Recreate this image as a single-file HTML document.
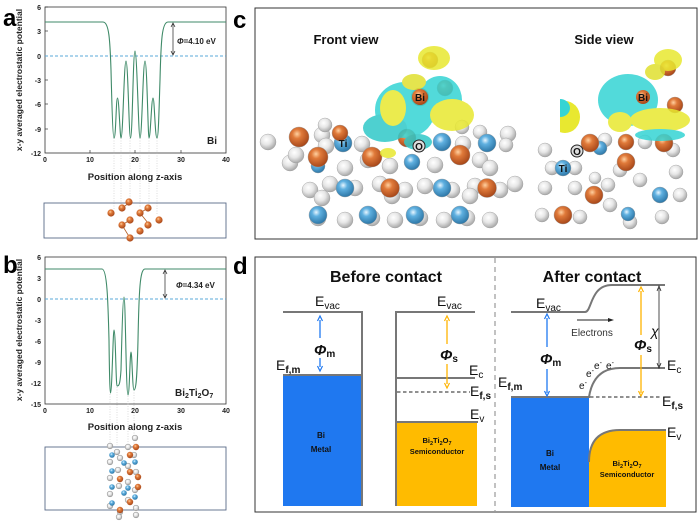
<!DOCTYPE html>
<html><head><meta charset="utf-8"><style>
html,body{margin:0;padding:0;background:#fff}
svg{display:block}
text{font-family:"Liberation Sans",Arial,sans-serif}
.b{font-weight:bold}
.t{font-size:7px;font-weight:bold;fill:#222}
</style></head><body>
<svg width="700" height="524" viewBox="0 0 700 524" xmlns="http://www.w3.org/2000/svg">
<defs>
<radialGradient id="go" cx="40%" cy="35%" r="65%"><stop offset="0" stop-color="#ffd0a0"/><stop offset="0.35" stop-color="#e07a3a"/><stop offset="1" stop-color="#a8481a"/></radialGradient>
<radialGradient id="gb" cx="40%" cy="35%" r="65%"><stop offset="0" stop-color="#e8f6ff"/><stop offset="0.35" stop-color="#5fb0e0"/><stop offset="1" stop-color="#2e78a8"/></radialGradient>
<radialGradient id="gw" cx="40%" cy="35%" r="65%"><stop offset="0" stop-color="#ffffff"/><stop offset="0.5" stop-color="#e6e6e6"/><stop offset="1" stop-color="#a8a8a8"/></radialGradient>
<clipPath id="cs"><rect x="560" y="55" width="132" height="180"/></clipPath>
</defs>

<!-- panel labels -->
<text x="3" y="26" class="b" font-size="24">a</text>
<text x="3" y="273" class="b" font-size="24">b</text>
<text x="233" y="28" class="b" font-size="24">c</text>
<text x="233" y="274" class="b" font-size="24">d</text>

<!-- ===== Panel a ===== -->
<rect x="45" y="7" width="181" height="146" fill="none" stroke="#333" stroke-width="0.8"/>
<g stroke="#333" stroke-width="0.7">
<line x1="45" y1="7" x2="48" y2="7"/><line x1="45" y1="31" x2="48" y2="31"/><line x1="45" y1="56" x2="48" y2="56"/><line x1="45" y1="80" x2="48" y2="80"/><line x1="45" y1="104" x2="48" y2="104"/><line x1="45" y1="129" x2="48" y2="129"/>
<line x1="90" y1="153" x2="90" y2="150"/><line x1="135" y1="153" x2="135" y2="150"/><line x1="181" y1="153" x2="181" y2="150"/>
</g>
<g class="t" text-anchor="end">
<text x="41" y="10">6</text><text x="41" y="34">3</text><text x="41" y="59">0</text><text x="41" y="83">-3</text><text x="41" y="107">-6</text><text x="41" y="132">-9</text><text x="41" y="156">-12</text>
</g>
<g class="t" text-anchor="middle">
<text x="45" y="162">0</text><text x="90" y="162">10</text><text x="135" y="162">20</text><text x="181" y="162">30</text><text x="226" y="162">40</text>
</g>
<text x="135" y="180" text-anchor="middle" class="b" font-size="9.5" fill="#222">Position along z-axis</text>
<text transform="translate(22,80) rotate(-90)" text-anchor="middle" class="b" font-size="8.5" fill="#222">x-y averaged electrostatic potential</text>
<line x1="45" y1="56" x2="226" y2="56" stroke="#5aa8d8" stroke-width="0.9" stroke-dasharray="3,2"/>
<g stroke="#bbb" stroke-width="0.5" stroke-dasharray="1,1.5">
<line x1="114" y1="138" x2="114" y2="210"/><line x1="121" y1="138" x2="121" y2="205"/><line x1="130" y1="138" x2="130" y2="200"/><line x1="140" y1="138" x2="140" y2="208"/><line x1="149" y1="138" x2="149" y2="205"/><line x1="157" y1="138" x2="157" y2="215"/>
</g>
<path d="M45 22 L103 22 C109 22 110 40 111 70 C112 110 113 138 114 138 C116 138 116 98 117.5 98 C119 98 120 138 121 138 C123 138 124 61 126 61 C128 61 129 138 130.5 138 C132.5 138 133 51 135 51 C137 51 138.5 138 140 138 C142 138 143 61 145 61 C147 61 148 138 149 138 C150.5 138 151.5 98 153 98 C154.5 98 155 138 157 138 C158.5 138 159 110 160 80 C161 40 162 22 168 22 L226 22" fill="none" stroke="#3f8a68" stroke-width="1.1"/>
<line x1="173" y1="24" x2="173" y2="54" stroke="#222" stroke-width="0.7"/>
<path d="M171 27 L173 23 L175 27 M171 51 L173 55 L175 51" fill="none" stroke="#222" stroke-width="0.7"/>
<text x="177" y="44" class="b" font-size="8" fill="#222"><tspan font-style="italic">Φ</tspan>=4.10 eV</text>
<text x="207" y="144" class="b" font-size="10" fill="#222">Bi</text>
<rect x="44" y="203" width="182" height="35" fill="none" stroke="#5a6a88" stroke-width="0.9"/>
<g stroke="#b05a20" stroke-width="0.8">
<line x1="129" y1="203" x2="122" y2="208"/><line x1="130" y1="220" x2="122" y2="225"/><line x1="122" y1="225" x2="130" y2="238"/><line x1="140" y1="213" x2="148" y2="208"/><line x1="140" y1="213" x2="148" y2="223"/>
</g>
<g fill="url(#go)">
<circle cx="129" cy="202" r="3.6"/><circle cx="122" cy="208" r="3.6"/><circle cx="148" cy="208" r="3.6"/><circle cx="111" cy="213" r="3.6"/><circle cx="140" cy="213" r="3.6"/><circle cx="130" cy="220" r="3.6"/><circle cx="159" cy="220" r="3.6"/><circle cx="122" cy="225" r="3.6"/><circle cx="148" cy="225" r="3.6"/><circle cx="140" cy="231" r="3.6"/><circle cx="130" cy="238" r="3.6"/>
</g>

<!-- ===== Panel b ===== -->
<rect x="45" y="257" width="181" height="147" fill="none" stroke="#333" stroke-width="0.8"/>
<g class="t" text-anchor="end">
<text x="41" y="260">6</text><text x="41" y="281">3</text><text x="41" y="302">0</text><text x="41" y="323">-3</text><text x="41" y="344">-6</text><text x="41" y="365">-9</text><text x="41" y="386">-12</text><text x="41" y="407">-15</text>
</g>
<g class="t" text-anchor="middle">
<text x="45" y="413">0</text><text x="90" y="413">10</text><text x="135" y="413">20</text><text x="181" y="413">30</text><text x="226" y="413">40</text>
</g>
<text x="135" y="430" text-anchor="middle" class="b" font-size="9.5" fill="#222">Position along z-axis</text>
<text transform="translate(22,330) rotate(-90)" text-anchor="middle" class="b" font-size="8.5" fill="#222">x-y averaged electrostatic potential</text>
<line x1="45" y1="299" x2="226" y2="299" stroke="#5aa8d8" stroke-width="0.9" stroke-dasharray="3,2"/>
<g stroke="#bbb" stroke-width="0.5" stroke-dasharray="1,1.5">
<line x1="110" y1="394" x2="110" y2="445"/><line x1="117" y1="387" x2="117" y2="445"/><line x1="128" y1="396" x2="128" y2="445"/><line x1="134" y1="390" x2="134" y2="445"/>
</g>
<path d="M45 269 L102 269 C107 269 108 300 109 340 C109.5 380 110 393 110.5 393 C112 393 113 330 114 330 C115.5 330 116 386 117 386 C119 386 120 385 121 370 C122 330 123 297 124 297 C125.5 297 126 395 128 395 C129.5 395 130 352 131 352 C132 352 132.5 390 134 390 C136 390 137 380 138 340 C139 290 140 269 145 269 L226 269" fill="none" stroke="#3f8a68" stroke-width="1.1"/>
<line x1="165" y1="271" x2="165" y2="297" stroke="#222" stroke-width="0.7"/>
<path d="M163 274 L165 270 L167 274 M163 294 L165 298 L167 294" fill="none" stroke="#222" stroke-width="0.7"/>
<text x="176" y="288" class="b" font-size="8" fill="#222"><tspan font-style="italic">Φ</tspan>=4.34 eV</text>
<text x="175" y="396" class="b" font-size="10" fill="#222">Bi<tspan font-size="7" dy="2">2</tspan><tspan dy="-2">Ti</tspan><tspan font-size="7" dy="2">2</tspan><tspan dy="-2">O</tspan><tspan font-size="7" dy="2">7</tspan></text>
<rect x="45" y="447" width="181" height="63" fill="none" stroke="#5a6a88" stroke-width="0.9"/>
<g stroke="#999" stroke-width="0.6" fill="url(#gw)">
<circle cx="110" cy="446" r="2.8"/><circle cx="117" cy="452" r="2.8"/><circle cx="110" cy="462" r="2.8"/><circle cx="120" cy="458" r="2.8"/><circle cx="128" cy="447" r="2.8"/><circle cx="134" cy="455" r="2.8"/><circle cx="135" cy="438" r="2.8"/>
<circle cx="110" cy="478" r="2.8"/><circle cx="118" cy="470" r="2.8"/><circle cx="128" cy="466" r="2.8"/><circle cx="136" cy="472" r="2.8"/><circle cx="110" cy="494" r="2.8"/><circle cx="119" cy="486" r="2.8"/><circle cx="128" cy="482" r="2.8"/><circle cx="135" cy="490" r="2.8"/>
<circle cx="110" cy="506" r="2.8"/><circle cx="120" cy="512" r="2.8"/><circle cx="128" cy="500" r="2.8"/><circle cx="136" cy="508" r="2.8"/><circle cx="119" cy="517" r="2.8"/><circle cx="136" cy="515" r="2.8"/>
</g>
<g fill="url(#gb)">
<circle cx="112" cy="455" r="2.8"/><circle cx="124" cy="463" r="2.8"/><circle cx="112" cy="471" r="2.8"/><circle cx="112" cy="487" r="2.8"/><circle cx="124" cy="493" r="2.8"/><circle cx="112" cy="503" r="2.8"/><circle cx="135" cy="462" r="2.8"/><circle cx="128" cy="488" r="2.8"/><circle cx="135" cy="497" r="2.8"/>
</g>
<g fill="url(#go)">
<circle cx="136" cy="447" r="3.2"/><circle cx="130" cy="455" r="3.2"/><circle cx="130" cy="472" r="3.2"/><circle cx="120" cy="479" r="3.2"/><circle cx="138" cy="477" r="3.2"/><circle cx="138" cy="487" r="3.2"/><circle cx="130" cy="502" r="3.2"/><circle cx="120" cy="510" r="3.2"/>
</g>

<!-- ===== Panel c ===== -->
<rect x="255" y="8" width="442" height="231" fill="none" stroke="#333" stroke-width="1"/>
<text x="346" y="44" text-anchor="middle" class="b" font-size="13" fill="#111">Front view</text>
<text x="604" y="44" text-anchor="middle" class="b" font-size="13" fill="#111">Side view</text>
<!-- front view atoms -->
<g stroke="#999" stroke-width="0.4">
<g fill="url(#gw)">
<circle cx="318" cy="218" r="8"/><circle cx="345" cy="220" r="8"/><circle cx="372" cy="218" r="8"/><circle cx="395" cy="220" r="8"/><circle cx="420" cy="218" r="8"/><circle cx="444" cy="220" r="8"/><circle cx="467" cy="218" r="8"/><circle cx="490" cy="220" r="8"/>
<circle cx="310" cy="190" r="8"/><circle cx="330" cy="184" r="8"/><circle cx="355" cy="188" r="8"/><circle cx="380" cy="184" r="8"/><circle cx="405" cy="190" r="8"/><circle cx="425" cy="186" r="8"/><circle cx="452" cy="190" r="8"/><circle cx="475" cy="186" r="8"/><circle cx="500" cy="190" r="8"/><circle cx="515" cy="184" r="8"/><circle cx="322" cy="198" r="8"/><circle cx="392" cy="196" r="8"/><circle cx="470" cy="196" r="8"/>
<circle cx="290" cy="163" r="8"/><circle cx="296" cy="155" r="8"/><circle cx="345" cy="168" r="8"/><circle cx="390" cy="166" r="8"/><circle cx="435" cy="165" r="8"/><circle cx="480" cy="160" r="8"/><circle cx="490" cy="168" r="8"/><circle cx="368" cy="160" r="8"/>
<circle cx="268" cy="142" r="8"/><circle cx="322" cy="135" r="8"/><circle cx="326" cy="146" r="8"/><circle cx="362" cy="144" r="8"/><circle cx="325" cy="125" r="7"/><circle cx="463" cy="144" r="8"/><circle cx="462" cy="127" r="7"/><circle cx="508" cy="134" r="8"/><circle cx="506" cy="145" r="7"/><circle cx="300" cy="140" r="7"/><circle cx="480" cy="132" r="7"/>
</g>
<g fill="url(#gb)">
<circle cx="318" cy="215" r="9"/><circle cx="368" cy="215" r="9"/><circle cx="415" cy="215" r="9"/><circle cx="460" cy="215" r="9"/>
<circle cx="345" cy="188" r="9"/><circle cx="442" cy="188" r="9"/>
<circle cx="343" cy="143" r="9"/><circle cx="442" cy="142" r="9"/><circle cx="487" cy="143" r="9"/><circle cx="412" cy="162" r="8"/><circle cx="318" cy="166" r="7"/>
</g>
<g fill="url(#go)">
<circle cx="390" cy="188" r="9.5"/><circle cx="487" cy="188" r="9.5"/>
<circle cx="299" cy="137" r="10"/><circle cx="318" cy="157" r="10"/><circle cx="372" cy="157" r="10"/><circle cx="460" cy="155" r="10"/><circle cx="340" cy="133" r="8"/><circle cx="407" cy="138" r="9"/>
<circle cx="420" cy="97" r="9"/><circle cx="430" cy="60" r="8"/><circle cx="445" cy="88" r="8"/>
</g>
</g>
<!-- isosurfaces front -->
<g opacity="0.85">
<ellipse cx="405" cy="110" rx="30" ry="28" fill="#35d4d4"/>
<ellipse cx="385" cy="128" rx="22" ry="14" fill="#30c8c8"/>
<ellipse cx="440" cy="100" rx="22" ry="24" fill="#35d4d4"/>
<ellipse cx="452" cy="115" rx="22" ry="16" fill="#e8e830"/>
<ellipse cx="393" cy="108" rx="13" ry="18" fill="#e8e830"/>
<ellipse cx="434" cy="58" rx="16" ry="12" fill="#e8e830"/>
<ellipse cx="414" cy="82" rx="12" ry="8" fill="#e0e030"/>
<ellipse cx="418" cy="142" rx="14" ry="8" fill="#30c8c8"/>
<ellipse cx="388" cy="153" rx="8" ry="5" fill="#e8e830"/>
</g>
<circle cx="420" cy="97" r="8" fill="url(#go)"/>
<text x="420" y="101" text-anchor="middle" class="b" font-size="10" fill="#111">Bi</text>
<text x="343" y="147" text-anchor="middle" class="b" font-size="10" fill="#111">Ti</text>
<circle cx="419" cy="146" r="6" fill="#ddd" stroke="#222" stroke-width="1"/>
<text x="419" y="150" text-anchor="middle" class="b" font-size="10" fill="#111">O</text>
<!-- side view -->
<g clip-path="url(#cs)">
<ellipse cx="565" cy="117" rx="15" ry="16" fill="#e8e830"/>
<ellipse cx="560" cy="108" rx="10" ry="9" fill="#35d4d4"/>
</g>
<g stroke="#999" stroke-width="0.4">
<g fill="url(#gw)">
<circle cx="545" cy="150" r="7"/><circle cx="552" cy="168" r="7"/><circle cx="545" cy="188" r="7"/><circle cx="575" cy="188" r="7"/><circle cx="608" cy="185" r="7"/><circle cx="640" cy="180" r="7"/><circle cx="676" cy="172" r="7"/><circle cx="610" cy="205" r="7"/><circle cx="542" cy="215" r="7"/><circle cx="580" cy="217" r="7"/><circle cx="662" cy="217" r="7"/><circle cx="605" cy="140" r="7"/><circle cx="645" cy="142" r="7"/><circle cx="673" cy="150" r="7"/><circle cx="575" cy="168" r="7"/><circle cx="620" cy="170" r="7"/><circle cx="680" cy="195" r="7"/><circle cx="630" cy="222" r="7"/><circle cx="595" cy="178" r="6"/>
</g>
<g fill="url(#gb)"><circle cx="563" cy="168" r="8"/><circle cx="660" cy="195" r="8"/><circle cx="628" cy="214" r="7"/><circle cx="600" cy="148" r="7"/></g>
<g fill="url(#go)"><circle cx="590" cy="143" r="9"/><circle cx="626" cy="142" r="8"/><circle cx="664" cy="143" r="9"/><circle cx="626" cy="162" r="9"/><circle cx="594" cy="195" r="9"/><circle cx="563" cy="215" r="9"/><circle cx="668" cy="68" r="8"/><circle cx="675" cy="105" r="8"/></g>
</g>
<g opacity="0.85">
<ellipse cx="628" cy="100" rx="30" ry="26" fill="#35d4d4"/>
<ellipse cx="660" cy="120" rx="30" ry="12" fill="#e8e830"/>
<ellipse cx="620" cy="122" rx="12" ry="10" fill="#e8e830"/>
<ellipse cx="668" cy="60" rx="14" ry="11" fill="#e8e830"/>
<ellipse cx="655" cy="72" rx="10" ry="8" fill="#e0e030"/>
<ellipse cx="660" cy="135" rx="25" ry="6" fill="#35d4d4"/>
</g>
<circle cx="643" cy="97" r="7" fill="url(#go)"/>
<text x="643" y="101" text-anchor="middle" class="b" font-size="10" fill="#111">Bi</text>
<circle cx="577" cy="151" r="6" fill="#ddd" stroke="#222" stroke-width="1"/>
<text x="577" y="155" text-anchor="middle" class="b" font-size="10" fill="#111">O</text>
<text x="563" y="172" text-anchor="middle" class="b" font-size="10" fill="#111">Ti</text>

<!-- ===== Panel d ===== -->
<rect x="255" y="257" width="441" height="255" fill="none" stroke="#333" stroke-width="1"/>
<line x1="495" y1="258" x2="495" y2="511" stroke="#999" stroke-width="1.2" stroke-dasharray="5,4"/>
<text x="386" y="282" text-anchor="middle" class="b" font-size="16" fill="#111">Before contact</text>
<text x="592" y="282" text-anchor="middle" class="b" font-size="16" fill="#111">After contact</text>
<!-- before: metal -->
<rect x="283" y="375" width="79" height="131" fill="#1f78f0"/>
<line x1="283" y1="375" x2="362" y2="375" stroke="#777" stroke-width="2"/>
<path d="M283 312 L362 312 L362 506" fill="none" stroke="#777" stroke-width="2"/>
<text x="315" y="306" font-size="14" fill="#111">E<tspan font-size="10" dy="3">vac</tspan></text>
<text x="276" y="370" font-size="14" fill="#111">E<tspan font-size="10" dy="3" class="b">f,m</tspan></text>
<line x1="320" y1="320" x2="320" y2="367" stroke="#1f78f0" stroke-width="1.3"/>
<path d="M317.5 321 L320 316 L322.5 321 M317.5 366 L320 371 L322.5 366" fill="none" stroke="#1f78f0" stroke-width="1.2"/>
<rect x="310" y="338" width="30" height="20" fill="#fff"/>
<text x="314" y="355" class="b" font-size="15" font-style="italic" fill="#111">Φ<tspan font-size="10" font-style="normal" dy="2">m</tspan></text>
<text x="321" y="438" text-anchor="middle" class="b" font-size="8" fill="#111">Bi</text>
<text x="321" y="452" text-anchor="middle" class="b" font-size="8" fill="#111">Metal</text>
<!-- before: semiconductor -->
<rect x="397" y="422" width="80" height="84" fill="#ffbb00"/>
<path d="M396 506 L396 312 L475 312" fill="none" stroke="#777" stroke-width="2"/>
<line x1="396" y1="378" x2="475" y2="378" stroke="#777" stroke-width="2"/>
<line x1="396" y1="422" x2="478" y2="422" stroke="#777" stroke-width="2"/>
<line x1="397" y1="392" x2="470" y2="392" stroke="#222" stroke-width="1" stroke-dasharray="3.5,2.5"/>
<line x1="447" y1="320" x2="447" y2="384" stroke="#ffb400" stroke-width="1.3"/>
<path d="M444.5 321 L447 316 L449.5 321 M444.5 383 L447 388 L449.5 383" fill="none" stroke="#ffb400" stroke-width="1.2"/>
<rect x="437" y="344" width="28" height="20" fill="#fff"/>
<text x="440" y="360" class="b" font-size="15" font-style="italic" fill="#111">Φ<tspan font-size="10" font-style="normal" dy="2">s</tspan></text>
<text x="437" y="306" font-size="14" fill="#111">E<tspan font-size="10" dy="3">vac</tspan></text>
<text x="469" y="375" font-size="14" fill="#111">E<tspan font-size="10" dy="3">c</tspan></text>
<text x="470" y="396" font-size="14" fill="#111">E<tspan font-size="10" dy="3" class="b">f,s</tspan></text>
<text x="470" y="419" font-size="14" fill="#111">E<tspan font-size="10" dy="3">v</tspan></text>
<text x="437" y="443" text-anchor="middle" class="b" font-size="7.5" fill="#111">Bi<tspan font-size="5.5" dy="2">2</tspan><tspan dy="-2">Ti</tspan><tspan font-size="5.5" dy="2">2</tspan><tspan dy="-2">O</tspan><tspan font-size="5.5" dy="2">7</tspan></text>
<text x="437" y="454" text-anchor="middle" class="b" font-size="7.5" fill="#111">Semiconductor</text>
<!-- after -->
<rect x="511" y="397" width="78" height="110" fill="#1f78f0"/>
<path d="M589 507 L589 462 C589 440 600 430 620 430 L666 430 L666 507 Z" fill="#ffbb00"/>
<path d="M589 462 C589 440 600 430 620 430 L666 430" fill="none" stroke="#777" stroke-width="2"/>
<line x1="511" y1="397" x2="590" y2="397" stroke="#777" stroke-width="2"/>
<path d="M589 397 C592 378 602 368 620 368 L665 368" fill="none" stroke="#777" stroke-width="2"/>
<path d="M511 312 L585 312 C592 312 590 285 612 285 L665 285" fill="none" stroke="#777" stroke-width="2"/>
<line x1="590" y1="397" x2="660" y2="397" stroke="#222" stroke-width="1" stroke-dasharray="3.5,2.5"/>
<line x1="547" y1="318" x2="547" y2="393" stroke="#1f78f0" stroke-width="1.3"/>
<path d="M544.5 319 L547 314 L549.5 319 M544.5 391 L547 396 L549.5 391" fill="none" stroke="#1f78f0" stroke-width="1.2"/>
<rect x="537" y="347" width="30" height="22" fill="#fff"/>
<text x="540" y="364" class="b" font-size="15" font-style="italic" fill="#111">Φ<tspan font-size="10" font-style="normal" dy="2">m</tspan></text>
<line x1="641" y1="291" x2="641" y2="393" stroke="#ffb400" stroke-width="1.3"/>
<path d="M638.5 292 L641 287 L643.5 292 M638.5 391 L641 396 L643.5 391" fill="none" stroke="#ffb400" stroke-width="1.2"/>
<rect x="631" y="335" width="28" height="20" fill="#fff"/>
<text x="634" y="350" class="b" font-size="15" font-style="italic" fill="#111">Φ<tspan font-size="10" font-style="normal" dy="2">s</tspan></text>
<line x1="659" y1="288" x2="659" y2="366" stroke="#222" stroke-width="0.8"/>
<path d="M657 291 L659 286 L661 291 M657 363 L659 368 L661 363" fill="none" stroke="#222" stroke-width="0.8"/>
<text x="651" y="336" font-size="14" font-style="italic" fill="#111">χ</text>
<line x1="577" y1="320" x2="612" y2="320" stroke="#222" stroke-width="1"/>
<path d="M608 318 L614 320 L608 322 Z" fill="#222"/>
<text x="592" y="336" text-anchor="middle" font-size="10" fill="#333">Electrons</text>
<text x="536" y="308" font-size="14" fill="#111">E<tspan font-size="10" dy="3">vac</tspan></text>
<text x="498" y="387" font-size="14" fill="#111">E<tspan font-size="10" dy="3" class="b">f,m</tspan></text>
<text x="662" y="406" font-size="14" fill="#111">E<tspan font-size="10" dy="3" class="b">f,s</tspan></text>
<text x="667" y="370" font-size="14" fill="#111">E<tspan font-size="10" dy="3">c</tspan></text>
<text x="667" y="437" font-size="14" fill="#111">E<tspan font-size="10" dy="3">v</tspan></text>
<g font-size="10" fill="#111">
<text x="579" y="389">e<tspan font-size="7" dy="-4">-</tspan></text>
<text x="586" y="377">e<tspan font-size="7" dy="-4">-</tspan></text>
<text x="594" y="369">e<tspan font-size="7" dy="-4">-</tspan></text>
<text x="606" y="369">e<tspan font-size="7" dy="-4">-</tspan></text>
</g>
<text x="550" y="456" text-anchor="middle" class="b" font-size="8" fill="#111">Bi</text>
<text x="550" y="470" text-anchor="middle" class="b" font-size="8" fill="#111">Metal</text>
<text x="627" y="466" text-anchor="middle" class="b" font-size="7.5" fill="#111">Bi<tspan font-size="5.5" dy="2">2</tspan><tspan dy="-2">Ti</tspan><tspan font-size="5.5" dy="2">2</tspan><tspan dy="-2">O</tspan><tspan font-size="5.5" dy="2">7</tspan></text>
<text x="627" y="477" text-anchor="middle" class="b" font-size="7.5" fill="#111">Semiconductor</text>
</svg>
</body></html>
